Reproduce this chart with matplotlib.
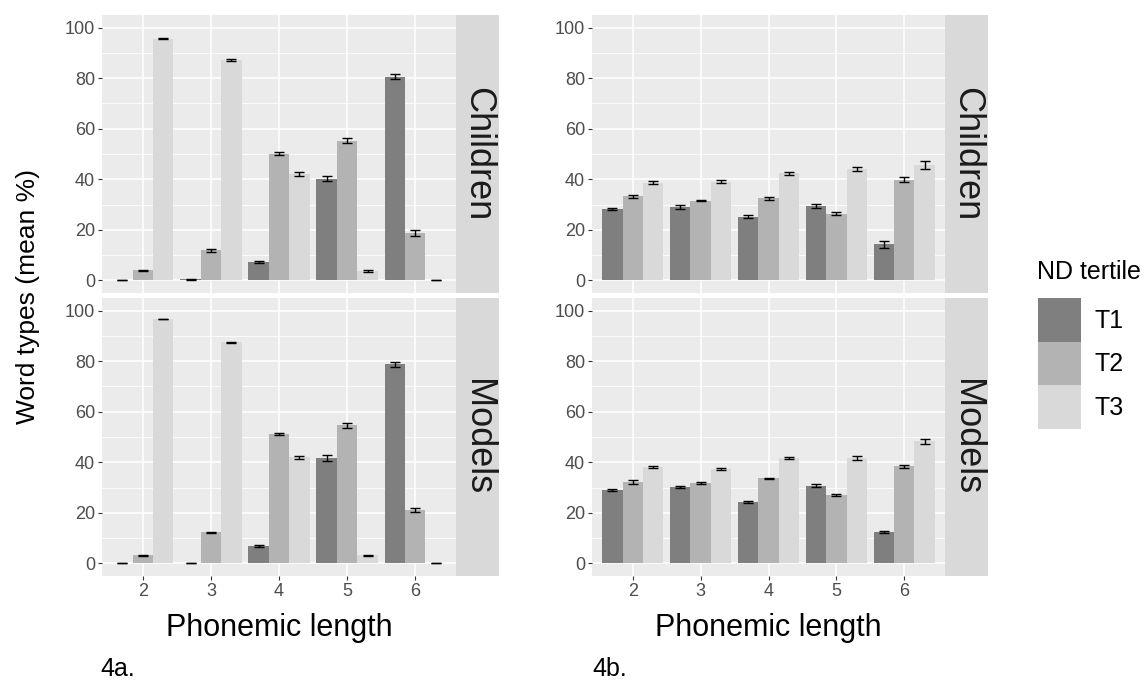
import numpy as np
import matplotlib
matplotlib.use('Agg')
import matplotlib.pyplot as plt
from matplotlib.patches import Patch

plt.rcParams['font.family'] = ['Liberation Sans', 'DejaVu Sans']

##data (mean % and error bar half-widths)
lengths = [2, 3, 4, 5, 6]
tertiles = ['T1', 'T2', 'T3']
tertile_colors = ['#7f7f7f', '#b3b3b3', '#d9d9d9']

##4a children / models
a_children_mean = [[0.2, 0.4, 7.1, 40.2, 80.6],
                   [4.0, 11.9, 50.1, 55.3, 18.9],
                   [95.6, 87.2, 42.1, 3.8, 0.1]]
a_children_err = [[0.1, 0.2, 0.4, 1.0, 1.1],
                  [0.2, 0.5, 0.6, 1.0, 1.2],
                  [0.2, 0.4, 0.7, 0.3, 0.05]]
a_models_mean = [[0.1, 0.1, 6.9, 41.7, 78.8],
                 [3.3, 12.3, 51.0, 54.7, 21.1],
                 [96.7, 87.5, 42.0, 3.3, 0.1]]
a_models_err = [[0.1, 0.1, 0.3, 1.0, 1.0],
                [0.2, 0.2, 0.4, 1.0, 0.9],
                [0.1, 0.2, 0.6, 0.2, 0.05]]

##4b children / models
b_children_mean = [[28.2, 29.2, 25.2, 29.4, 14.2],
                   [33.2, 31.6, 32.4, 26.4, 39.9],
                   [38.7, 39.1, 42.3, 44.1, 45.7]]
b_children_err = [[0.5, 0.8, 0.5, 0.9, 1.2],
                  [0.6, 0.3, 0.5, 0.6, 0.9],
                  [0.6, 0.5, 0.6, 0.9, 1.5]]
b_models_mean = [[29.1, 30.3, 24.3, 30.8, 12.5],
                 [32.2, 31.8, 33.6, 27.1, 38.4],
                 [38.2, 37.5, 41.7, 41.7, 48.3]]
b_models_err = [[0.3, 0.3, 0.5, 0.7, 0.4],
                [0.6, 0.4, 0.2, 0.5, 0.7],
                [0.5, 0.4, 0.4, 0.9, 0.9]]

W, H = 1148, 683
fig = plt.figure(figsize=(W/100, H/100), dpi=100)

def frac(x0, y0, x1, y1):
    ##pixel box -> figure fraction rect
    return [x0/W, 1-y1/H, (x1-x0)/W, (y1-y0)/H]

def draw_panel(box, means, errs, strip_box, strip_label, bottom):
    ax = fig.add_axes(frac(*box))
    ax.set_facecolor('#ebebeb')
    for s in ax.spines.values():
        s.set_visible(False)
    x = np.array(lengths, dtype=float)
    offsets = [-0.3, 0.0, 0.3]
    for k in range(3):
        ax.bar(x + offsets[k], means[k], width=0.3, color=tertile_colors[k],
               linewidth=0, zorder=2)
        ax.errorbar(x + offsets[k], means[k], yerr=errs[k], fmt='none',
                    ecolor='black', elinewidth=1.0, capsize=3.6, capthick=1.0,
                    zorder=3)
    ax.set_xlim(1.4, 6.6)
    ax.set_ylim(-5, 105)
    ax.set_yticks([0, 20, 40, 60, 80, 100])
    ax.set_yticks([10, 30, 50, 70, 90], minor=True)
    ax.set_xticks(lengths)
    ax.grid(True, which='major', color='white', linewidth=1.1, zorder=0)
    ax.grid(True, which='minor', axis='y', color='white', linewidth=0.55, zorder=0)
    ax.set_axisbelow(True)
    ax.tick_params(axis='y', which='major', colors='#333333', length=3,
                   width=0.8, labelsize=13, labelcolor='#4d4d4d', pad=2)
    ax.tick_params(axis='y', which='minor', length=0)
    if bottom:
        ax.tick_params(axis='x', colors='#333333', length=3, width=0.8,
                       labelsize=13, labelcolor='#4d4d4d', pad=2)
    else:
        ax.tick_params(axis='x', length=0, labelbottom=False)
    ##facet strip on the right
    sx = fig.add_axes(frac(*strip_box))
    sx.set_facecolor('#d9d9d9')
    sx.set_xticks([])
    sx.set_yticks([])
    for s in sx.spines.values():
        s.set_visible(False)
    sx.text(0.5, 0.5, strip_label, rotation=-90, ha='center', va='center',
            fontsize=26, color='#1a1a1a', transform=sx.transAxes)
    return ax

top_y = (15, 293)
bot_y = (298, 576)

draw_panel((102, top_y[0], 456, top_y[1]), a_children_mean, a_children_err,
           (456, top_y[0], 499, top_y[1]), 'Children', False)
draw_panel((102, bot_y[0], 456, bot_y[1]), a_models_mean, a_models_err,
           (456, bot_y[0], 499, bot_y[1]), 'Models', True)
draw_panel((592, top_y[0], 945, top_y[1]), b_children_mean, b_children_err,
           (945, top_y[0], 988, top_y[1]), 'Children', False)
draw_panel((592, bot_y[0], 945, bot_y[1]), b_models_mean, b_models_err,
           (945, bot_y[0], 988, bot_y[1]), 'Models', True)

##axis titles and panel tags
fig.text(28/W, 1-296/H, 'Word types (mean %)', rotation=90, ha='center',
         va='center', fontsize=19, color='black')
fig.text(279/W, 1-628/H, 'Phonemic length', ha='center', va='center',
         fontsize=22, color='black')
fig.text(768/W, 1-628/H, 'Phonemic length', ha='center', va='center',
         fontsize=22, color='black')
fig.text(100/W, 1-676/H, '4a.', ha='left', va='baseline', fontsize=18)
fig.text(592/W, 1-676/H, '4b.', ha='left', va='baseline', fontsize=18)

##legend (title drawn separately so it sits apart from the keys)
fig.text(1037/W, 1-272/H, 'ND tertile', ha='left', va='center', fontsize=18)
handles = [Patch(facecolor=c, edgecolor='none') for c in tertile_colors]
leg = fig.legend(handles, tertiles, loc='upper left',
                 bbox_to_anchor=(1038/W, 1-298/H), frameon=False,
                 fontsize=18, handlelength=1.72, handleheight=2.3,
                 labelspacing=0.0, handletextpad=0.55, borderpad=0,
                 borderaxespad=0)

fig.savefig('out.png', dpi=100)
